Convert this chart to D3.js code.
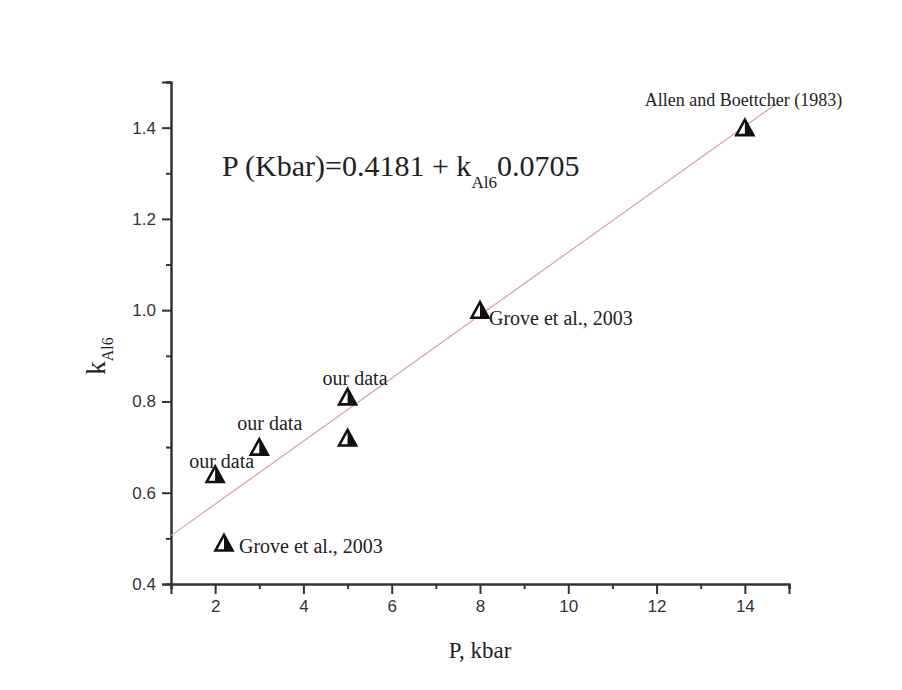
<!DOCTYPE html>
<html>
<head>
<meta charset="utf-8">
<script src="https://cdn.jsdelivr.net/npm/d3@7"></script>
<style>
  body { margin: 0; background: #fff; }
  .tick text { font-family: "Liberation Sans", Arial, sans-serif; }
</style>
</head>
<body>
<div id="chart"></div>
<script>
let chart_width = 902;
let chart_height = 690;

// measured points (P in kbar, k_Al6)
let pressure = [2, 3, 5, 5, 8, 14, 2.2];
let kAl6 = [0.64, 0.70, 0.81, 0.72, 1.00, 1.40, 0.49];
let pointLabels = ['our data', 'our data', 'our data', '', 'Grove et al., 2003', 'Allen and Boettcher (1983)', 'Grove et al., 2003'];
// label offsets relative to the marker (dx, dy of baseline start)
let labelDx = [-26, -22, -25, 0, 9, -100, 15];
let labelDy = [-6, -17, -12, 0, 15, -22, 10];

// fitted line drawn on the plot
let fitX = [1, 14.75];
let fitIntercept = 0.437;
let fitSlope = 0.069;

let xTicks = [2, 4, 6, 8, 10, 12, 14];
let xMinor = [1, 3, 5, 7, 9, 11, 13, 15];
let yTicks = [0.4, 0.6, 0.8, 1.0, 1.2, 1.4];
let yMinor = [0.5, 0.7, 0.9, 1.1, 1.3, 1.5];

let xScale = d3.scaleLinear().domain([1, 15]).range([171, 789]);
let yScale = d3.scaleLinear().domain([0.4, 1.5]).range([584, 82]);

let svg = d3.select('#chart')
    .append('svg')
    .attr('width', chart_width)
    .attr('height', chart_height);

// axes
let xAxis = svg.append('g')
    .attr('transform', 'translate(0,' + yScale(0.4) + ')')
    .call(d3.axisBottom(xScale).tickValues(xTicks).tickSize(10).tickPadding(6).tickFormat(d3.format('d')));
let xAxisMinor = svg.append('g')
    .attr('transform', 'translate(0,' + yScale(0.4) + ')')
    .call(d3.axisBottom(xScale).tickValues(xMinor).tickSize(5).tickFormat(''));

let yAxis = svg.append('g')
    .attr('transform', 'translate(' + xScale(1) + ',0)')
    .call(d3.axisLeft(yScale).tickValues(yTicks).tickSize(9).tickPadding(6).tickFormat(d3.format('.1f')));
let yAxisMinor = svg.append('g')
    .attr('transform', 'translate(' + xScale(1) + ',0)')
    .call(d3.axisLeft(yScale).tickValues(yMinor).tickSize(5).tickFormat(''));

[xAxis, xAxisMinor, yAxis, yAxisMinor].forEach(function(ax){
    ax.select('.domain').attr('stroke', '#333').attr('stroke-width', 2);
    ax.selectAll('.tick line').attr('stroke', '#333').attr('stroke-width', 2);
    ax.selectAll('.tick text').attr('fill', '#333').style('font-size', '17px');
});

// fit line
let fitLine = d3.line()
    .x(d => xScale(d))
    .y(d => yScale(fitIntercept + fitSlope * d));

svg.append('path')
    .datum(fitX)
    .attr('d', fitLine)
    .attr('fill', 'none')
    .attr('stroke', '#d9a0a4')
    .attr('stroke-width', 1.2);

// half filled triangle markers
let points = pressure.map(function(p, i){
    return {p: p, k: kAl6[i], label: pointLabels[i], dx: labelDx[i], dy: labelDy[i]};
});

let marker = svg.append('g')
    .selectAll('g')
    .data(points)
    .enter()
    .append('g')
    .attr('transform', d => 'translate(' + xScale(d.p) + ',' + yScale(d.k) + ')');

marker.append('path')
    .attr('d', 'M0,-8L8.5,7.5L-8.5,7.5Z')
    .attr('fill', '#fff')
    .attr('stroke', '#111')
    .attr('stroke-width', 2.6)
    .attr('stroke-linejoin', 'miter');

marker.append('path')
    .attr('d', 'M0,-8L8.5,7.5L0,7.5Z')
    .attr('fill', '#111');

// point labels
svg.append('g')
    .selectAll('text')
    .data(points.filter(d => d.label !== ''))
    .enter()
    .append('text')
    .text(d => d.label)
    .attr('x', d => xScale(d.p) + d.dx)
    .attr('y', d => yScale(d.k) + d.dy)
    .attr('fill', '#222')
    .style('font-family', '"Liberation Serif", "Times New Roman", serif')
    .style('font-size', d => d.label.length > 20 ? '18px' : '20px');

// equation
let eq = svg.append('text')
    .attr('x', 222)
    .attr('y', 176)
    .attr('fill', '#222')
    .style('font-family', '"Liberation Serif", "Times New Roman", serif')
    .style('font-size', '30px');
eq.append('tspan').text('P (Kbar)=0.4181 + k');
eq.append('tspan').text('Al6').attr('dy', 12).style('font-size', '17px');
eq.append('tspan').text('0.0705').attr('dy', -12);

// axis titles
svg.append('text')
    .text('P, kbar')
    .attr('x', xScale(8))
    .attr('y', 658)
    .attr('text-anchor', 'middle')
    .attr('fill', '#222')
    .style('font-family', '"Liberation Serif", "Times New Roman", serif')
    .style('font-size', '23px');

let yTitle = svg.append('text')
    .attr('transform', 'translate(105,356) rotate(-90)')
    .attr('text-anchor', 'middle')
    .attr('fill', '#222')
    .style('font-family', '"Liberation Serif", "Times New Roman", serif')
    .style('font-size', '27px');
yTitle.append('tspan').text('k');
yTitle.append('tspan').text('Al6').attr('dy', 8).style('font-size', '16px');
</script>
</body>
</html>
